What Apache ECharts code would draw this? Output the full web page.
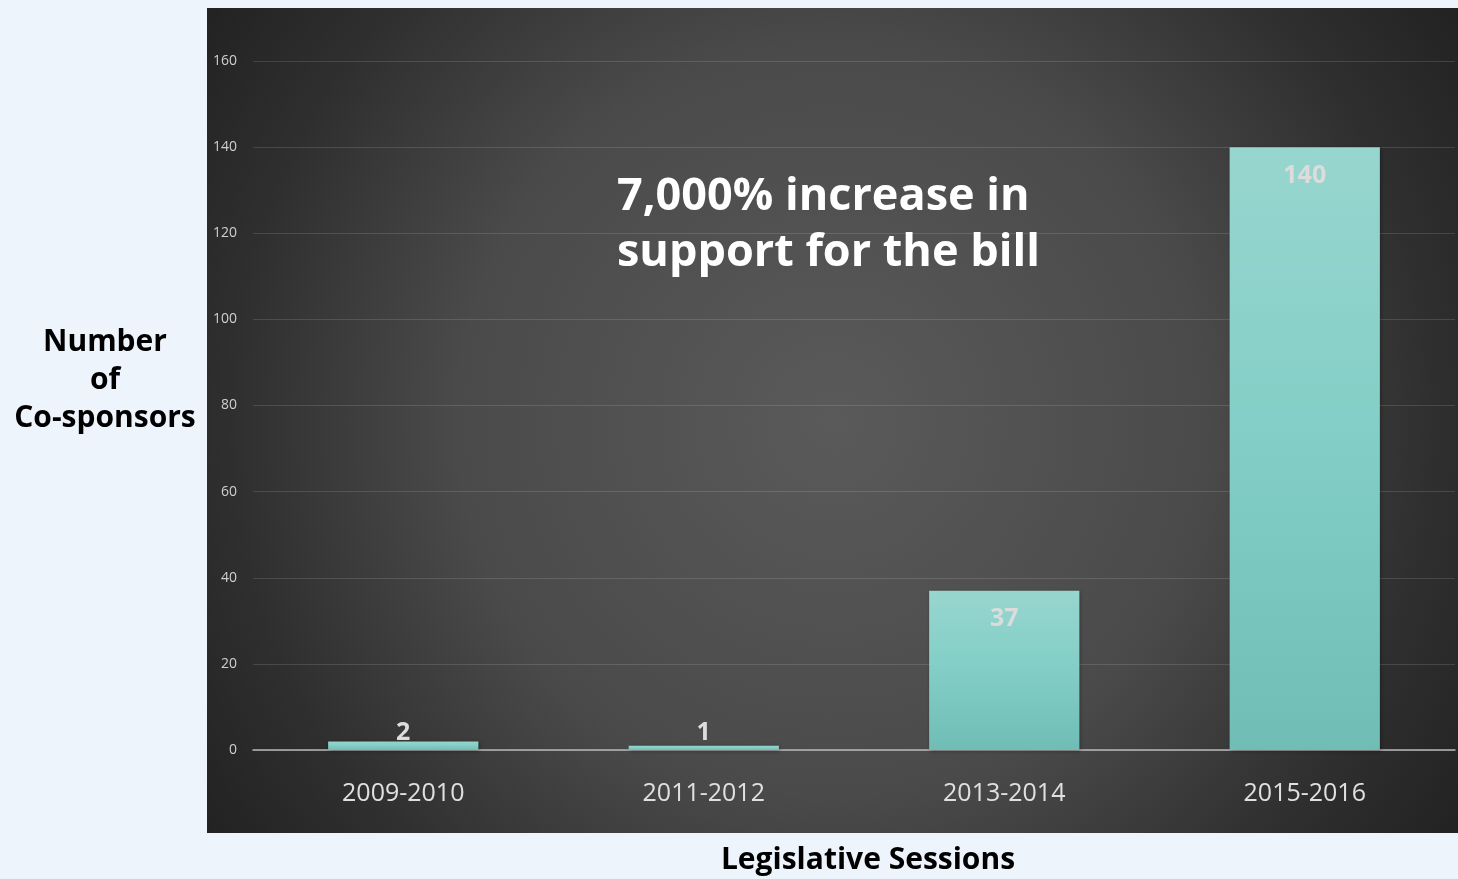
<!DOCTYPE html>
<html>
<head>
<meta charset="utf-8">
<script src="https://cdn.jsdelivr.net/npm/echarts@6/dist/echarts.min.js"></script>
<style>
html,body{margin:0;padding:0;background:#eef4fc;}
#c{width:1458px;height:879px;}
</style>
</head>
<body>
<div id="c"></div>
<script>
const categories = ['2009-2010', '2011-2012', '2013-2014', '2015-2016'];
const cosponsors = [2, 1, 37, 140];
const yTicks = { min: 0, max: 160, interval: 20 };
const annotationLines = ['7,000% increase in', 'support for the bill'];
const xTitle = 'Legislative Sessions';
const yTitle = 'Number\nof\nCo-sponsors';

const chart = echarts.init(document.getElementById('c'));
const font = '"Open Sans", "Noto Sans", sans-serif';

const barData = cosponsors.map(v => ({
  value: v,
  label: v > 10
    ? { position: 'insideTop', distance: 16 }
    : { position: 'top', distance: v === 2 ? -4 : 0 }
}));

chart.setOption({
  backgroundColor: '#eef4fc',
  animation: false,
  graphic: [
    {
      type: 'rect', z: -10, silent: true,
      shape: { x: 207, y: 8, width: 1251, height: 825 },
      style: {
        fill: {
          type: 'radial', x: 0.5, y: 0.5, r: 0.91,
          colorStops: [
            { offset: 0, color: '#5a5a5a' },
            { offset: 0.5, color: '#4a4a4a' },
            { offset: 0.8, color: '#2f2f2f' },
            { offset: 1, color: '#222222' }
          ]
        }
      }
    },
    {
      type: 'text', z: 100, left: 617, top: 169,
      style: {
        text: annotationLines.join('\n'),
        fill: '#ffffff',
        font: 'bold 45px ' + font,
        lineHeight: 56
      }
    },
    {
      type: 'text', z: 100, x: 105, y: 380,
      style: {
        text: yTitle,
        fill: '#000',
        font: 'bold 30px ' + font,
        lineHeight: 38,
        align: 'center',
        verticalAlign: 'middle'
      }
    },
    {
      type: 'text', z: 100, x: 868, y: 860,
      style: {
        text: xTitle,
        fill: '#000',
        font: 'bold 30px ' + font,
        align: 'center',
        verticalAlign: 'middle'
      }
    }
  ],
  grid: { left: 253, right: 3, top: 61, bottom: 129, containLabel: false },
  xAxis: {
    type: 'category',
    data: categories,
    axisLine: { lineStyle: { color: '#b8b8b8', width: 1.5 } },
    axisTick: { show: false },
    axisLabel: { color: '#e0e0e0', fontSize: 25, fontFamily: font, margin: 31 }
  },
  yAxis: {
    type: 'value',
    min: yTicks.min, max: yTicks.max, interval: yTicks.interval,
    axisLine: { show: false },
    axisTick: { show: false },
    axisLabel: { color: '#d0d0d0', fontSize: 14, fontFamily: font, margin: 16 },
    splitLine: { lineStyle: { color: 'rgba(255,255,255,0.13)', width: 1 } }
  },
  series: [{
    type: 'bar',
    data: barData,
    barWidth: '50%',
    itemStyle: {
      color: {
        type: 'linear', x: 0, y: 0, x2: 0, y2: 1,
        colorStops: [
          { offset: 0, color: '#97d6cf' },
          { offset: 0.5, color: '#82cec6' },
          { offset: 1, color: '#70bdb6' }
        ]
      },
      shadowColor: 'rgba(0,0,0,0.35)',
      shadowBlur: 4,
      shadowOffsetX: 1,
      shadowOffsetY: 1
    },
    label: {
      show: true,
      color: '#dcdcdc',
      fontSize: 25,
      fontWeight: 'bold',
      fontFamily: font
    }
  }]
});
</script>
</body>
</html>
